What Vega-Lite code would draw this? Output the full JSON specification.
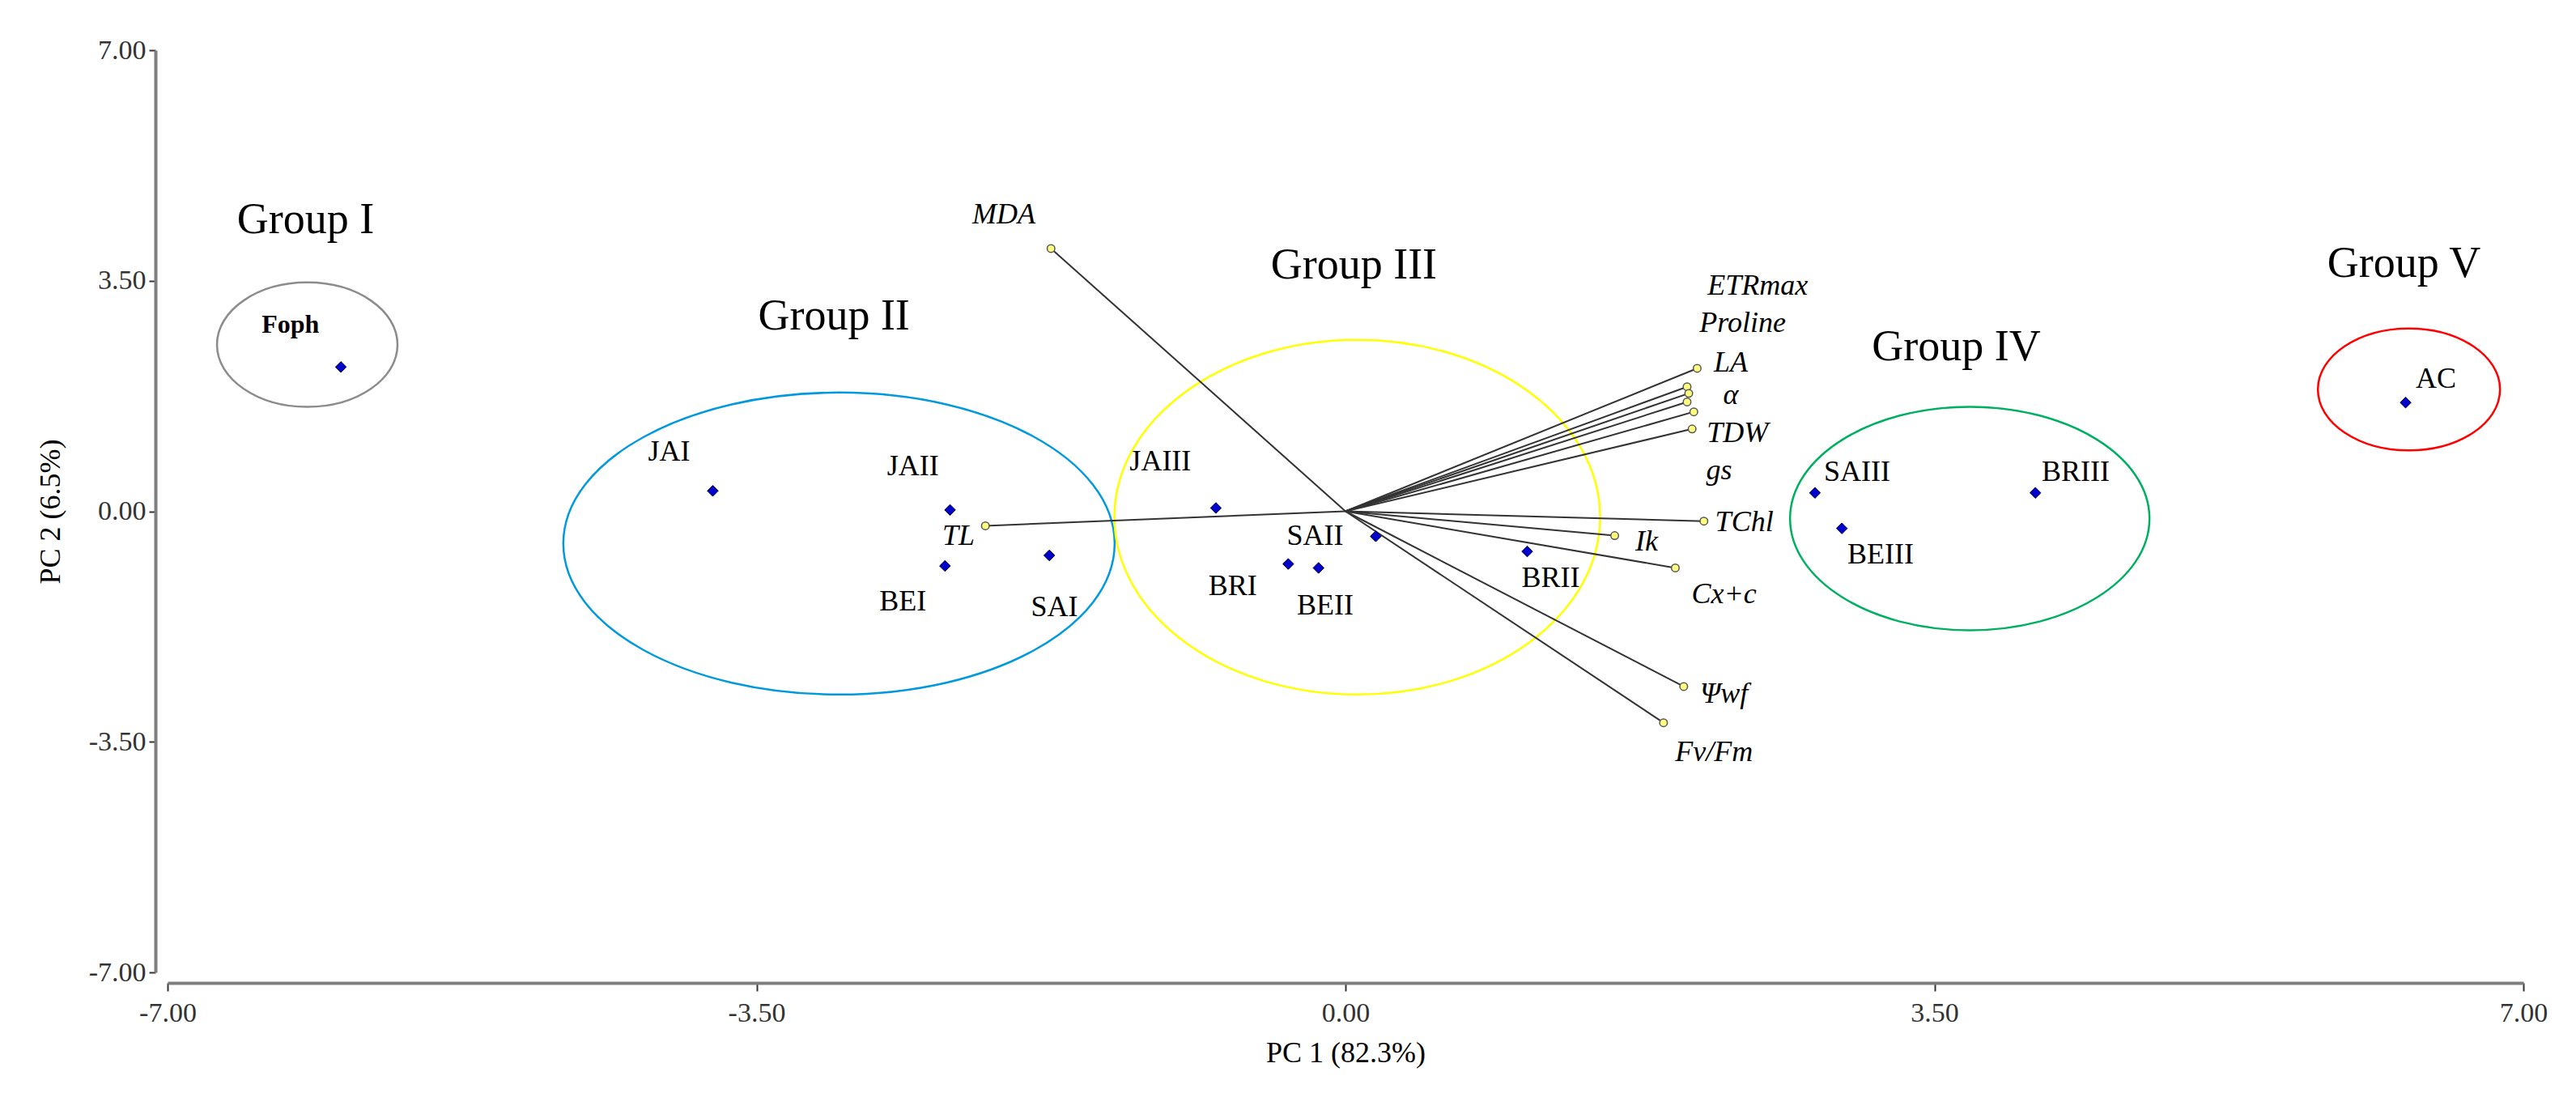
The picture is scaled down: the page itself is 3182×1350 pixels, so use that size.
{
  "$schema": "https://vega.github.io/schema/vega-lite/v6.json",
  "width": 2910,
  "height": 1139,
  "autosize": {"type": "none"},
  "padding": {"left": 207, "top": 62, "right": 65, "bottom": 149},
  "background": "white",
  "config": {"view": {"stroke": null}},
  "datasets": {
    "points": [
      {"name": "Foph", "x": -5.97, "y": 2.19, "lx": -6.27, "ly": 2.83},
      {"name": "JAI", "x": -3.76, "y": 0.31, "lx": -4.02, "ly": 0.9},
      {"name": "JAII", "x": -2.35, "y": 0.02, "lx": -2.57, "ly": 0.68},
      {"name": "BEI", "x": -2.38, "y": -0.83, "lx": -2.63, "ly": -1.37},
      {"name": "SAI", "x": -1.76, "y": -0.67, "lx": -1.73, "ly": -1.46},
      {"name": "JAIII", "x": -0.77, "y": 0.05, "lx": -1.1, "ly": 0.75},
      {"name": "BRI", "x": -0.34, "y": -0.8, "lx": -0.67, "ly": -1.14},
      {"name": "BEII", "x": -0.16, "y": -0.86, "lx": -0.12, "ly": -1.43},
      {"name": "SAII", "x": 0.18, "y": -0.38, "lx": -0.18, "ly": -0.37},
      {"name": "BRII", "x": 1.08, "y": -0.61, "lx": 1.22, "ly": -1.01},
      {"name": "SAIII", "x": 2.79, "y": 0.28, "lx": 3.04, "ly": 0.59},
      {"name": "BEIII", "x": 2.95, "y": -0.26, "lx": 3.18, "ly": -0.66},
      {"name": "BRIII", "x": 4.1, "y": 0.28, "lx": 4.34, "ly": 0.59},
      {"name": "AC", "x": 6.3, "y": 1.65, "lx": 6.48, "ly": 2.01}
    ],
    "vars": [
      {"var": "MDA", "vx": -1.75, "vy": 3.99, "lx": -2.03, "ly": 4.5},
      {"var": "TL", "vx": -2.14, "vy": -0.22, "lx": -2.3, "ly": -0.37},
      {"var": "LA", "vx": 2.09, "vy": 2.17, "lx": 2.29, "ly": 2.25},
      {"var": "ETRmax", "vx": 2.03, "vy": 1.89, "lx": 2.45, "ly": 3.42},
      {"var": "Proline", "vx": 2.04, "vy": 1.79, "lx": 2.36, "ly": 2.86},
      {"var": "α", "vx": 2.03, "vy": 1.66, "lx": 2.29, "ly": 1.76},
      {"var": "TDW", "vx": 2.07, "vy": 1.51, "lx": 2.33, "ly": 1.18},
      {"var": "gs", "vx": 2.06, "vy": 1.25, "lx": 2.22, "ly": 0.62},
      {"var": "TChl", "vx": 2.13, "vy": -0.15, "lx": 2.37, "ly": -0.17},
      {"var": "Ik", "vx": 1.6, "vy": -0.37, "lx": 1.79, "ly": -0.46},
      {"var": "Cx+c", "vx": 1.96, "vy": -0.86, "lx": 2.25, "ly": -1.26},
      {"var": "Ψwf", "vx": 2.01, "vy": -2.66, "lx": 2.25, "ly": -2.77},
      {"var": "Fv/Fm", "vx": 1.89, "vy": -3.21, "lx": 2.19, "ly": -3.66}
    ],
    "groups": [
      {"group": "Group I", "cx": -6.17, "cy": 2.53, "tx": -6.18, "ty": 4.42},
      {"group": "Group II", "cx": -3.01, "cy": -0.49, "tx": -3.04, "ty": 2.95},
      {"group": "Group III", "cx": 0.07, "cy": -0.09, "tx": 0.05, "ty": 3.73},
      {"group": "Group IV", "cx": 3.71, "cy": -0.11, "tx": 3.63, "ty": 2.49},
      {"group": "Group V", "cx": 6.32, "cy": 1.85, "tx": 6.29, "ty": 3.75}
    ]
  },
  "layer": [
    {
      "data": {"name": "groups"},
      "mark": {"type": "point", "filled": false, "size": 4, "strokeWidth": 2.5, "opacity": 1},
      "encoding": {
        "x": {"field": "cx", "type": "quantitative", "scale": {"domain": [-7, 7], "nice": false, "zero": false},
          "axis": {"title": "PC 1 (82.3%)", "values": [-7, -3.5, 0, 3.5, 7],
            "labelExpr": "(datum.value < 0 ? '-' : '') + format(abs(datum.value), '.2f')", "grid": false, "offset": 13,
            "domainColor": "#7f7f7f", "domainWidth": 4, "tickColor": "#333333", "tickWidth": 2, "tickSize": 10,
            "labelPadding": 10, "labelFont": "Liberation Serif", "labelFontSize": 34, "labelColor": "#333333",
            "labelFlush": false, "labelOverlap": false,
            "titleFont": "Liberation Serif", "titleFontSize": 36, "titleFontWeight": "normal", "titleColor": "#000000",
            "titleY": 86, "titleBaseline": "middle"}},
        "y": {"field": "cy", "type": "quantitative", "scale": {"domain": [-7, 7], "nice": false, "zero": false},
          "axis": {"title": "PC 2 (6.5%)", "values": [-7, -3.5, 0, 3.5, 7],
            "labelExpr": "(datum.value < 0 ? '-' : '') + format(abs(datum.value), '.2f')", "grid": false, "offset": 15,
            "domainColor": "#7f7f7f", "domainWidth": 4, "tickColor": "#333333", "tickWidth": 2, "tickSize": 8,
            "labelPadding": 4, "labelFont": "Liberation Serif", "labelFontSize": 34, "labelColor": "#333333",
            "labelFlush": false, "labelOverlap": false,
            "titleFont": "Liberation Serif", "titleFontSize": 36, "titleFontWeight": "normal", "titleColor": "#000000",
            "titleX": -130, "titleBaseline": "middle"}},
        "shape": {"field": "group", "type": "nominal", "legend": null, "scale": {
          "domain": ["Group I", "Group II", "Group III", "Group IV", "Group V"],
          "range": [
            "M -111.5 0 A 111.5 76.8 0 1 1 111.5 0 A 111.5 76.8 0 1 1 -111.5 0 Z",
            "M -340.5 0 A 340.5 186.5 0 1 1 340.5 0 A 340.5 186.5 0 1 1 -340.5 0 Z",
            "M -300 0 A 300 219 0 1 1 300 0 A 300 219 0 1 1 -300 0 Z",
            "M -222 0 A 222 138 0 1 1 222 0 A 222 138 0 1 1 -222 0 Z",
            "M -112.5 0 A 112.5 75.3 0 1 1 112.5 0 A 112.5 75.3 0 1 1 -112.5 0 Z"
          ]}},
        "color": {"field": "group", "type": "nominal", "legend": null, "scale": {
          "domain": ["Group I", "Group II", "Group III", "Group IV", "Group V"],
          "range": ["#8c8c8c", "#0099dd", "#ffff00", "#00b060", "#ff0000"]}}
      }
    },
    {
      "data": {"name": "vars"},
      "mark": {"type": "rule", "color": "#333333", "strokeWidth": 2},
      "encoding": {
        "x": {"field": "vx", "type": "quantitative"},
        "y": {"field": "vy", "type": "quantitative"},
        "x2": {"datum": 0},
        "y2": {"datum": 0}
      }
    },
    {
      "data": {"name": "vars"},
      "mark": {"type": "point", "shape": "circle", "filled": true, "fill": "#ffff80", "stroke": "#555555", "strokeWidth": 1.5, "size": 90, "opacity": 1},
      "encoding": {
        "x": {"field": "vx", "type": "quantitative"},
        "y": {"field": "vy", "type": "quantitative"}
      }
    },
    {
      "data": {"name": "points"},
      "mark": {"type": "point", "shape": "diamond", "filled": true, "fill": "#0000cc", "stroke": "#000033", "strokeWidth": 1, "size": 180, "opacity": 1},
      "encoding": {
        "x": {"field": "x", "type": "quantitative"},
        "y": {"field": "y", "type": "quantitative"}
      }
    },
    {
      "data": {"name": "points"},
      "transform": [{"filter": "datum.name !== 'Foph'"}],
      "mark": {"type": "text", "font": "Liberation Serif", "fontSize": 36, "color": "#000000", "align": "center", "baseline": "middle"},
      "encoding": {
        "x": {"field": "lx", "type": "quantitative"},
        "y": {"field": "ly", "type": "quantitative"},
        "text": {"field": "name"}
      }
    },
    {
      "data": {"name": "points"},
      "transform": [{"filter": "datum.name === 'Foph'"}],
      "mark": {"type": "text", "font": "Liberation Serif", "fontSize": 32, "fontWeight": "bold", "color": "#000000", "align": "center", "baseline": "middle"},
      "encoding": {
        "x": {"field": "lx", "type": "quantitative"},
        "y": {"field": "ly", "type": "quantitative"},
        "text": {"field": "name"}
      }
    },
    {
      "data": {"name": "vars"},
      "mark": {"type": "text", "font": "Liberation Serif", "fontSize": 36, "fontStyle": "italic", "color": "#000000", "align": "center", "baseline": "middle"},
      "encoding": {
        "x": {"field": "lx", "type": "quantitative"},
        "y": {"field": "ly", "type": "quantitative"},
        "text": {"field": "var"}
      }
    },
    {
      "data": {"name": "groups"},
      "mark": {"type": "text", "font": "Liberation Serif", "fontSize": 54, "color": "#000000", "align": "center", "baseline": "middle"},
      "encoding": {
        "x": {"field": "tx", "type": "quantitative"},
        "y": {"field": "ty", "type": "quantitative"},
        "text": {"field": "group"}
      }
    }
  ]
}
